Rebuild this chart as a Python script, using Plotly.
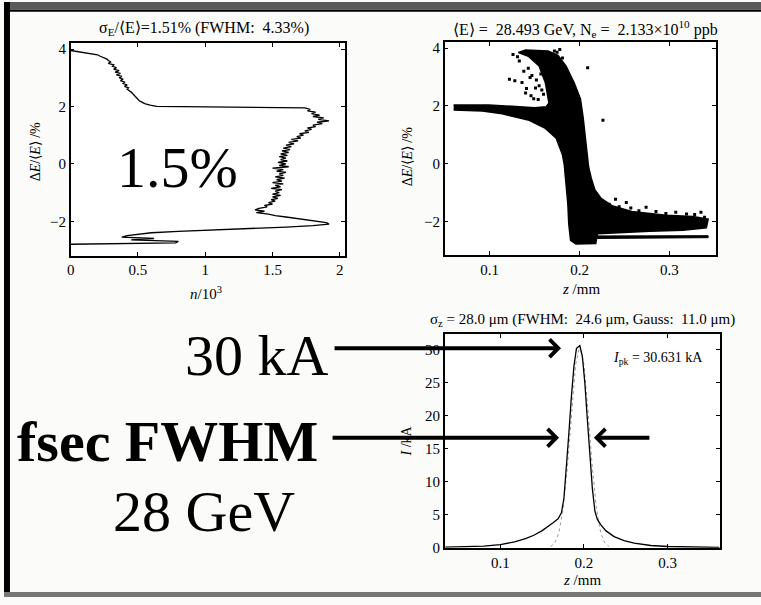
import plotly.graph_objects as go

# ---------------- data ----------------
# Panel 1: energy histogram (n/10^3 vs dE/<E> in %)
hist_dE = [3.95, 3.9, 3.85, 3.8, 3.75, 3.7, 3.65, 3.6, 3.55, 3.5, 3.45, 3.4, 3.35, 3.3, 3.25, 3.2,
           3.15, 3.1, 3.05, 3.0, 2.95, 2.9, 2.85, 2.8, 2.75, 2.7, 2.65, 2.6, 2.55, 2.5, 2.45, 2.4,
           2.35, 2.3, 2.25, 2.2, 2.15, 2.1, 2.05, 2.0, 1.95, 1.9, 1.85, 1.8, 1.75, 1.7, 1.65, 1.6,
           1.55, 1.5, 1.45, 1.4, 1.35, 1.3, 1.25, 1.2, 1.15, 1.1, 1.05, 1.0, 0.95, 0.9, 0.85, 0.8,
           0.75, 0.7, 0.65, 0.6, 0.55, 0.5, 0.45, 0.4, 0.35, 0.3, 0.25, 0.2, 0.15, 0.1, 0.05, 0.0,
           -0.05, -0.1, -0.15, -0.2, -0.25, -0.3, -0.35, -0.4, -0.45, -0.5, -0.55, -0.6, -0.65, -0.7,
           -0.75, -0.8, -0.85, -0.9, -0.95, -1.0, -1.05, -1.1, -1.15, -1.2, -1.25, -1.3, -1.35, -1.4,
           -1.45, -1.5, -1.55, -1.6, -1.65, -1.7, -1.75, -1.8, -1.85, -1.9, -1.95, -2.0, -2.05, -2.1,
           -2.15, -2.2, -2.25, -2.3, -2.35, -2.4, -2.45, -2.5, -2.55, -2.6, -2.65, -2.7, -2.75, -2.8]
hist_n = [0.0, 0.08, 0.15, 0.2, 0.22, 0.25, 0.27, 0.28, 0.3, 0.28, 0.32, 0.31, 0.34, 0.32, 0.36, 0.33,
          0.37, 0.34, 0.38, 0.36, 0.39, 0.37, 0.40, 0.39, 0.42, 0.40, 0.43, 0.42, 0.44, 0.45, 0.46, 0.47,
          0.48, 0.49, 0.50, 0.51, 0.53, 0.55, 0.59, 0.64, 1.74, 1.78, 1.76, 1.82, 1.79, 1.85, 1.80, 1.88,
          1.84, 1.92, 1.83, 1.87, 1.80, 1.82, 1.76, 1.79, 1.74, 1.77, 1.70, 1.73, 1.68, 1.71, 1.64, 1.69,
          1.62, 1.66, 1.60, 1.64, 1.58, 1.63, 1.57, 1.62, 1.56, 1.61, 1.55, 1.60, 1.56, 1.61, 1.54, 1.60,
          1.55, 1.62, 1.50, 1.58, 1.53, 1.60, 1.55, 1.58, 1.52, 1.59, 1.53, 1.57, 1.50, 1.58,
          1.52, 1.56, 1.49, 1.57, 1.52, 1.55, 1.50, 1.56, 1.50, 1.54, 1.49, 1.52, 1.47, 1.50,
          1.44, 1.46, 1.40, 1.37, 1.44, 1.38, 1.47, 1.52, 1.60, 1.68, 1.76, 1.84, 1.90, 1.92,
          1.80, 1.60, 1.30, 1.00, 0.80, 0.60, 0.50, 0.42, 0.38, 0.62, 0.45, 0.80, 0.78, 0.0]

# Panel 2: longitudinal phase space, dense core outline + stripe + stray particles
core_z = [0.060, 0.099, 0.129, 0.150, 0.163, 0.166, 0.162, 0.155, 0.143, 0.132, 0.140, 0.165,
          0.176, 0.185, 0.194, 0.201, 0.204, 0.206, 0.208, 0.210, 0.213, 0.217, 0.224, 0.236,
          0.258, 0.296, 0.326, 0.343, 0.341, 0.315, 0.278, 0.240, 0.220, 0.218, 0.196, 0.190,
          0.188, 0.187, 0.185, 0.183, 0.181, 0.174, 0.162, 0.144, 0.114, 0.092, 0.060]
core_dE = [2.03, 2.03, 1.98, 1.94, 1.97, 2.10, 2.80, 3.38, 3.72, 3.85, 3.93, 3.90,
           3.75, 3.38, 2.80, 2.24, 1.60, 1.00, 0.40, -0.10, -0.50, -0.90, -1.20, -1.45,
           -1.65, -1.78, -1.83, -1.92, -2.22, -2.30, -2.34, -2.38, -2.42, -2.76, -2.78, -2.65,
           -2.08, -1.40, -0.72, -0.03, 0.31, 0.88, 1.22, 1.50, 1.73, 1.82, 1.86]
stripe_z = [0.205, 0.278, 0.343, 0.343, 0.278, 0.205]
stripe_dE = [-2.50, -2.50, -2.49, -2.56, -2.57, -2.59]
stray_z = [0.122, 0.128, 0.136, 0.145, 0.147, 0.151, 0.160, 0.158, 0.172, 0.175, 0.181, 0.209,
           0.226, 0.154, 0.149, 0.140, 0.155, 0.160, 0.143, 0.133, 0.150, 0.178, 0.157, 0.138,
           0.233, 0.240, 0.244, 0.252, 0.257, 0.266, 0.274, 0.285, 0.296, 0.307, 0.319, 0.328,
           0.335, 0.339, 0.237, 0.131, 0.146, 0.152, 0.126, 0.141]
stray_dE = [2.92, 2.87, 2.81, 2.98, 3.05, 2.62, 3.20, 2.55, 3.90, 3.86, 3.66, 3.32,
            1.50, 2.22, 2.25, 2.45, 2.70, 2.40, 3.30, 3.55, 3.62, 3.95, 3.10, 3.20,
            -1.40, -1.23, -1.49, -1.34, -1.53, -1.63, -1.51, -1.65, -1.72, -1.68, -1.74, -1.76,
            -1.68, -1.85, -1.63, 3.70, 2.35, 2.90, 3.78, 2.60]

# Panel 3: current profile
cur_z = [0.034, 0.06, 0.08, 0.10, 0.117, 0.13, 0.14, 0.15, 0.157, 0.163, 0.169, 0.173, 0.176,
         0.179, 0.182, 0.185, 0.188, 0.191, 0.195, 0.198, 0.201, 0.204, 0.207, 0.210, 0.213,
         0.216, 0.220, 0.226, 0.236, 0.248, 0.26, 0.28, 0.30, 0.33, 0.362]
cur_I = [0.1, 0.15, 0.25, 0.5, 0.9, 1.4, 1.9, 2.6, 3.2, 3.8, 4.4, 5.3, 7.5,
         12.0, 17.5, 23.0, 27.5, 30.2, 30.6, 29.0, 25.0, 19.5, 14.0, 9.0, 5.6,
         4.3, 3.5, 2.6, 1.7, 1.1, 0.7, 0.35, 0.2, 0.1, 0.05]
gauss_z = [0.160, 0.165, 0.170, 0.175, 0.180, 0.185, 0.190, 0.195, 0.200, 0.205, 0.210, 0.215,
           0.220, 0.225, 0.230]
gauss_I = [0.2, 0.7, 2.3, 5.9, 12.1, 20.3, 27.7, 30.6, 27.7, 20.3, 12.1, 5.9, 2.3, 0.7, 0.2]

p1_xticks = [0, 0.5, 1, 1.5, 2]
p1_xlabels = ["0", "0.5", "1", "1.5", "2"]
de_ticks = [-2, 0, 2, 4]
de_labels = ["\u22122", "0", "2", "4"]
z_ticks = [0.1, 0.2, 0.3]
z_labels = ["0.1", "0.2", "0.3"]
i_ticks = [0, 5, 10, 15, 20, 25, 30]
i_labels = ["0", "5", "10", "15", "20", "25", "30"]

# ---------------- figure ----------------
W, H = 761, 605
SERIF = "Liberation Serif, Times New Roman, serif"


def px(x):
    return x / W


def py(y):
    return 1 - y / H


fig = go.Figure()
fig.add_trace(go.Scatter(x=hist_n, y=hist_dE, mode="lines",
                         line=dict(color="black", width=1.3), xaxis="x", yaxis="y"))
fig.add_trace(go.Scatter(x=core_z, y=core_dE, mode="lines", fill="toself", fillcolor="black",
                         line=dict(color="black", width=1.5), xaxis="x2", yaxis="y2"))
fig.add_trace(go.Scatter(x=stripe_z, y=stripe_dE, mode="lines", fill="toself", fillcolor="black",
                         line=dict(color="black", width=1), xaxis="x2", yaxis="y2"))
fig.add_trace(go.Scatter(x=stray_z, y=stray_dE, mode="markers",
                         marker=dict(color="black", size=3, symbol="square"), xaxis="x2", yaxis="y2"))
fig.add_trace(go.Scatter(x=gauss_z, y=gauss_I, mode="lines",
                         line=dict(color="#999", width=1, dash="dot"), xaxis="x3", yaxis="y3"))
fig.add_trace(go.Scatter(x=cur_z, y=cur_I, mode="lines",
                         line=dict(color="black", width=1.3), xaxis="x3", yaxis="y3"))

ax_common = dict(showline=True, linecolor="black", linewidth=1.5, mirror="ticks", ticks="inside",
                 ticklen=4, tickwidth=1, tickcolor="black", showgrid=False, zeroline=False,
                 tickfont=dict(family=SERIF, size=15, color="black"))

fig.update_layout(
    width=W, height=H, margin=dict(l=0, r=0, t=0, b=0),
    paper_bgcolor="#fbfbfa", plot_bgcolor="white", showlegend=False,
    xaxis=dict(domain=[px(67), px(343)], range=[0, 2.04], tickvals=p1_xticks, ticktext=p1_xlabels,
               anchor="y", **ax_common),
    yaxis=dict(domain=[py(258), py(42)], range=[-3.2, 4.2], tickvals=de_ticks, ticktext=de_labels,
               anchor="x", **ax_common),
    xaxis2=dict(domain=[px(443), px(716)], range=[0.05, 0.352], tickvals=z_ticks, ticktext=z_labels,
                anchor="y2", **ax_common),
    yaxis2=dict(domain=[py(257), py(41)], range=[-3.15, 4.2], tickvals=de_ticks, ticktext=de_labels,
                anchor="x2", **ax_common),
    xaxis3=dict(domain=[px(443), px(720)], range=[0.0333, 0.363], tickvals=z_ticks, ticktext=z_labels,
                anchor="y3", **ax_common),
    yaxis3=dict(domain=[py(555), py(338)], range=[0, 32.3], tickvals=i_ticks, ticktext=i_labels,
                anchor="x3", **ax_common),
)

ann = []


def text(x, y, s, size=14, angle=0, xanchor="center", weight="normal"):
    ann.append(dict(x=px(x), y=py(y), xref="paper", yref="paper", text=s, showarrow=False,
                    xanchor=xanchor, yanchor="middle", textangle=angle,
                    font=dict(family=SERIF, size=size, color="black", weight=weight)))


text(201, 27, "\u03c3<sub>E</sub>/\u27e8E\u27e9=1.51% (FWHM:  4.33%)", 16)
text(585, 27, "\u27e8E\u27e9 =  28.493 GeV, N<sub>e</sub> =  2.133\u00d710<sup>10</sup> ppb", 16)
text(582, 323, "\u03c3<sub>z</sub> = 28.0 \u03bcm (FWHM:  24.6 \u03bcm, Gauss:  11.0 \u03bcm)", 15)
text(657, 362, "<i>I</i><sub>pk</sub> = 30.631 kA", 14)
text(203, 296, "<i>n</i>/10<sup>3</sup>", 15)
text(580, 292, "<i>z</i> /mm", 15)
text(581, 588, "<i>z</i> /mm", 15)
text(32, 152, "\u0394<i>E</i>/\u27e8<i>E</i>\u27e9 /%", 14, angle=-90)
text(406, 157, "\u0394<i>E</i>/\u27e8<i>E</i>\u27e9 /%", 14, angle=-90)
text(405, 446, "<i>I</i> /kA", 14, angle=-90)

text(174, 168, "1.5%", 58)
text(254, 359, "30 kA", 58)
text(164, 447, "fsec FWHM", 58, weight="bold")
text(201, 518, "28 GeV", 58)


def arrow(tipx, tipy, tailx):
    ann.append(dict(x=px(tipx), y=py(tipy), xref="paper", yref="paper", text="", showarrow=True,
                    ax=tailx - tipx, ay=0, axref="pixel", ayref="pixel",
                    arrowhead=4, arrowwidth=4, arrowsize=0.85, arrowcolor="black"))


arrow(560, 352, 332)
arrow(558, 443, 330)
arrow(593, 443, 650)

fig.update_layout(annotations=ann)

shapes = [
    dict(type="rect", xref="paper", yref="paper", x0=0, x1=1, y0=py(8), y1=1.0,
         fillcolor="#5a5a5a", line=dict(width=0), layer="above"),
    dict(type="line", xref="paper", yref="paper", x0=0, x1=1, y0=py(9), y1=py(9),
         line=dict(color="black", width=2)),
    dict(type="rect", xref="paper", yref="paper", x0=0, x1=px(6), y0=0, y1=1,
         fillcolor="black", line=dict(width=0)),
    dict(type="rect", xref="paper", yref="paper", x0=0, x1=1, y0=0, y1=py(600),
         fillcolor="#777", line=dict(width=0)),
]
fig.update_layout(shapes=shapes)

# plain page: no body margin so the 761x605 figure fills the window exactly
fig.write_html(
    "out.html", config={"displayModeBar": False},
    post_script="document.body.style.margin='0';")
